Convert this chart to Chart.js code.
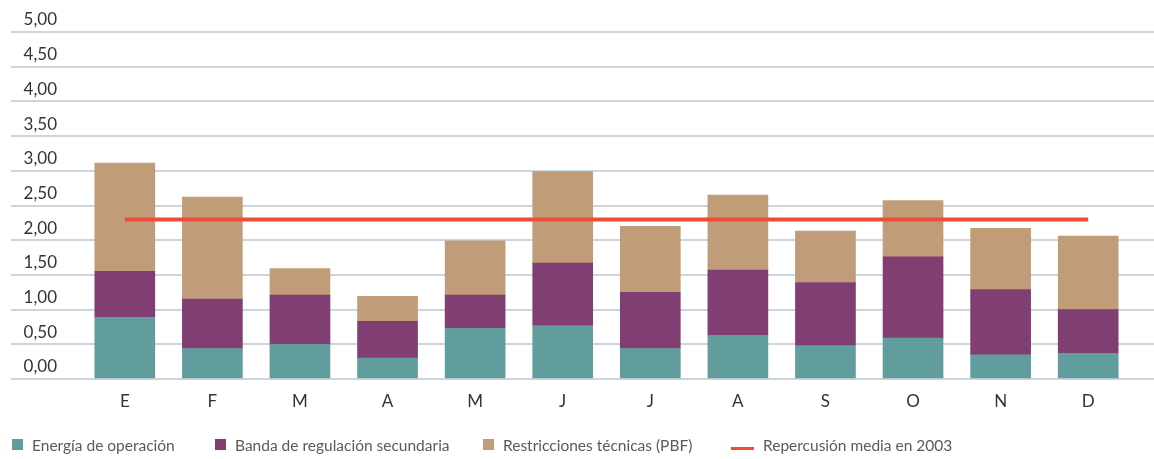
<!DOCTYPE html>
<html>
<head>
<meta charset="utf-8">
<script src="https://cdn.jsdelivr.net/npm/chart.js@4"></script>
<style>
  html, body { margin: 0; padding: 0; background: #fff; }
  #wrap { position: relative; width: 1154px; height: 459px; }
  #chart { position: absolute; left: 0; top: 0; }
  #legend { position: absolute; left: 0; top: 435px; width: 1154px; height: 20px;
            font-family: Lato, "Open Sans", sans-serif; font-size: 15.5px; color: #5a5a5a; }
  #legend .item { position: absolute; top: 0; height: 20px; display: flex; align-items: center; white-space: nowrap; }
  #legend .sw { display: inline-block; width: 11px; height: 11px; margin-right: 9px; position: relative; top: -1px; }
  #legend .ln { display: inline-block; width: 23px; height: 3px; margin-right: 9px; position: relative; top: 3px; }
  #legend .item:nth-child(1) { left: 12px; }
  #legend .item:nth-child(2) { left: 215px; }
  #legend .item:nth-child(3) { left: 483px; }
  #legend .item:nth-child(4) { left: 731px; }
</style>
</head>
<body>
<div id="wrap">
  <canvas id="chart" width="1154" height="459"></canvas>
  <div id="legend"></div>
</div>
<script>
const categories = ["E", "F", "M", "A", "M", "J", "J", "A", "S", "O", "N", "D"];
const energiaOperacion = [0.89, 0.44, 0.50, 0.30, 0.73, 0.77, 0.44, 0.63, 0.48, 0.59, 0.35, 0.37];
const bandaRegulacion = [0.66, 0.71, 0.71, 0.53, 0.48, 0.90, 0.81, 0.94, 0.91, 1.17, 0.94, 0.63];
const restricciones = [1.56, 1.47, 0.38, 0.36, 0.78, 1.32, 0.95, 1.08, 0.74, 0.81, 0.88, 1.06];
const mediaAnual = [2.30, 2.30, 2.30, 2.30, 2.30, 2.30, 2.30, 2.30, 2.30, 2.30, 2.30, 2.30];
const yTickLabels = ["0,00", "0,50", "1,00", "1,50", "2,00", "2,50", "3,00", "3,50", "4,00", "4,50", "5,00"];

const FONT = "Lato, 'Open Sans', sans-serif";
const GRID = "#cbd5dd";

const ctx = document.getElementById("chart");
const chart = new Chart(ctx, {
  type: "bar",
  data: {
    labels: categories,
    datasets: [
      { label: "Energía de operación", data: energiaOperacion, backgroundColor: "#629d9e", stack: "coste", order: 1 },
      { label: "Banda de regulación secundaria", data: bandaRegulacion, backgroundColor: "#803e72", stack: "coste", order: 1 },
      { label: "Restricciones técnicas (PBF)", data: restricciones, backgroundColor: "#c09c78", stack: "coste", order: 1 },
      {
        type: "line",
        label: "Repercusión media en 2003",
        data: mediaAnual,
        borderColor: "#ef4c38",
        backgroundColor: "#ef4c38",
        borderWidth: 4,
        pointRadius: 0,
        stack: "media",
        order: 0,
      },
    ],
  },
  options: {
    responsive: false,
    animation: false,
    barThickness: 60,
    layout: { padding: { left: 11, top: 32, right: 0, bottom: 40 } },
    plugins: { legend: { display: false }, tooltip: { enabled: false } },
    scales: {
      x: {
        stacked: true,
        grid: { display: false },
        border: { display: false },
        ticks: { font: { family: FONT, size: 17 }, color: "#333", padding: 4 },
        afterFit(scale) { scale.height = 40; },
      },
      y: {
        stacked: true,
        min: 0,
        max: 5,
        grid: { color: GRID, lineWidth: 2, tickLength: 70, tickColor: GRID },
        border: { display: false },
        ticks: {
          stepSize: 0.5,
          callback: (v, i) => yTickLabels[i],
          font: { family: FONT, size: 17 },
          color: "#333",
          padding: -46,
          crossAlign: "near",
          labelOffset: -12,
        },
        afterFit(scale) { scale.width = 70; },
      },
      y2: {
        position: "right",
        min: 0,
        max: 5,
        grid: { drawOnChartArea: false, tickLength: 22, color: GRID, tickColor: GRID, lineWidth: 2 },
        border: { display: false },
        ticks: { display: false, stepSize: 0.5 },
      },
    },
  },
});

// legend built from the chart's datasets
const legendEl = document.getElementById("legend");
chart.data.datasets.forEach((ds) => {
  const item = document.createElement("div");
  item.className = "item";
  const mark = document.createElement("span");
  mark.className = ds.type === "line" ? "ln" : "sw";
  mark.style.background = ds.type === "line" ? ds.borderColor : ds.backgroundColor;
  item.appendChild(mark);
  item.appendChild(document.createTextNode(ds.label));
  legendEl.appendChild(item);
});
</script>
</body>
</html>
